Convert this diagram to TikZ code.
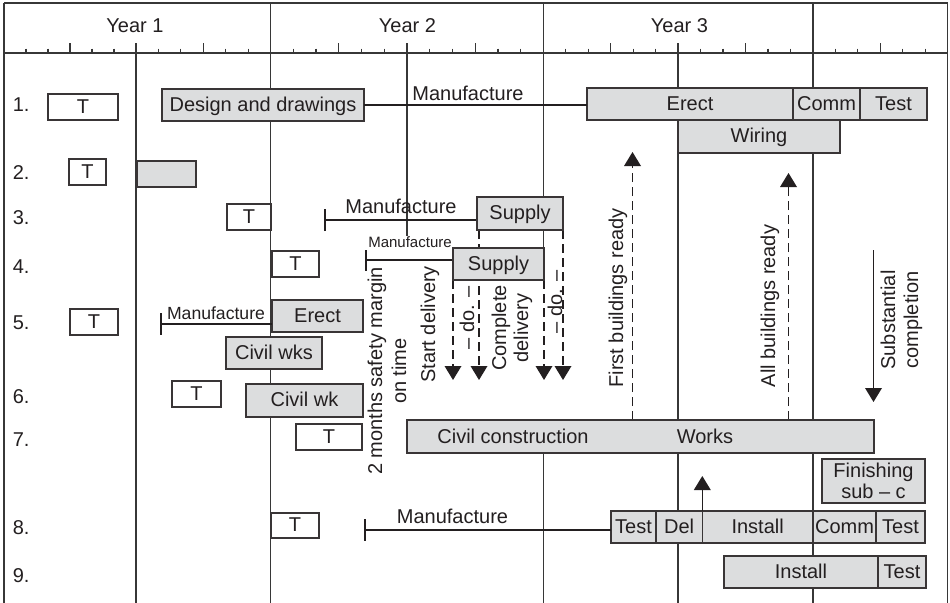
\documentclass[tikz,border=0pt]{standalone}
\usepackage{fontspec}
\setmainfont{Liberation Sans}
\usetikzlibrary{arrows.meta}
\definecolor{ink}{RGB}{35,31,32}
\definecolor{boxfill}{RGB}{220,221,222}
\definecolor{gridc}{RGB}{55,55,55}
\newcommand\gboxat[7]{\node[#1, minimum width={(#4-#2)*0.75pt}, minimum height={(#5-#3)*0.75pt}] (#6) at ({(#2+#4)/2},{(#3+#5)/2}) {#7};}
\begin{document}
\begin{tikzpicture}[x=0.75pt,y=-0.75pt,
 font=\fontsize{15}{17}\selectfont, text=ink,
 grid/.style={draw=gridc, line width=0.85pt},
 gb/.style={draw=ink!90, fill=boxfill, line width=1.1pt, inner sep=0pt, outer sep=0pt, text height=11pt, text depth=1.5pt},
 wb/.style={gb, fill=white},
 bar/.style={draw=ink, line width=1.5pt},
 arr/.style={draw=ink, line width=1pt, -{Triangle[width=12.5pt,length=10.5pt]}},
 darr/.style={arr, dash pattern=on 6.75pt off 3.75pt},
 lbl/.style={inner sep=0pt},
 rot/.style={rotate=90, align=center, inner sep=0pt}]
\useasboundingbox[fill=white] (0,0) rectangle (950,603);

% ---- grid and header ----
\draw[grid] (4,3) -- (947.5,3);
\draw[grid] (4,53) -- (947.5,53);
\draw[grid] (4,3) -- (4,603);
\draw[grid] (947.5,3) -- (947.5,603);
\draw[grid] (270.5,3) -- (270.5,603);
\draw[grid] (543.5,3) -- (543.5,280);
\draw[grid] (543.5,420) -- (543.5,603);
\draw[grid] (813,3) -- (813,603);
\draw[grid] (136,43) -- (136,603);
\draw[grid] (407,43) -- (407,236);
\draw[grid] (678,43) -- (678,603);
\foreach \a/\b in {4/136,136/270.5,270.5/407,407/543.5,543.5/678,678/813,813/947.5}{
  \foreach \k in {1,2,4,5}{\draw[grid] ({\a+\k*(\b-\a)/6},48.5) -- ({\a+\k*(\b-\a)/6},53);}
  \draw[grid] ({(\a+\b)/2},43) -- ({(\a+\b)/2},53);
}
\node[lbl] (y1) at (135,26) {Year 1};
\node[lbl] (y2) at (407.5,26) {Year 2};
\node[lbl] (y3) at (679.5,26) {Year 3};

% ---- row numbers ----
\node[lbl, anchor=west] (n1) at (12.5,105) {1.};
\node[lbl, anchor=west] (n2) at (12.5,173) {2.};
\node[lbl, anchor=west] (n3) at (12.5,218) {3.};
\node[lbl, anchor=west] (n4) at (12.5,267) {4.};
\node[lbl, anchor=west] (n5) at (12.5,323) {5.};
\node[lbl, anchor=west] (n6) at (12.5,397) {6.};
\node[lbl, anchor=west] (n7) at (12.5,440) {7.};
\node[lbl, anchor=west] (n8) at (12.5,528) {8.};
\node[lbl, anchor=west] (n9) at (12.5,576) {9.};

% ---- coordinates for free ends ----
\coordinate (m3) at (324,220);
\coordinate (m4) at (365,260);
\coordinate (m5) at (160,323.5);
\coordinate (m8) at (364,529.5);
\coordinate (e1) at (453,380);
\coordinate (e2) at (479,380);
\coordinate (e3) at (544,380);
\coordinate (e4) at (563,380);
\coordinate (fb) at (632.5,152);
\coordinate (ab) at (788.5,173);
\coordinate (sc1) at (873.5,250);
\coordinate (sc2) at (873.5,402);
\coordinate (up8) at (702.3,476);

% ---- row 1 ----
\gboxat{wb}{48}{94}{118}{120}{t1}{T}
\gboxat{gb}{162}{89}{364}{121}{design}{Design and drawings}
\gboxat{gb}{587}{88}{793}{120}{erect1}{Erect}
\gboxat{gb}{793}{88}{860}{120}{comm1}{Comm}
\gboxat{gb}{860}{88}{927}{120}{test1}{Test}
\gboxat{gb}{678}{120}{840}{153}{wiring}{Wiring}
\draw[bar] (design.east) -- (design.east -| erect1.west);
\node[lbl] (man1) at (468,93) {Manufacture};

% ---- reference boxes for the connectors behind ----
\gboxat{gb}{477}{197}{563}{230}{supply3}{}
\gboxat{gb}{453}{248}{544}{280}{supply4}{}
\gboxat{gb}{407}{420}{874}{453}{civil}{}

\draw[darr] (e1 |- supply4.south) -- (e1);
\draw[darr] (e2 |- supply3.south) -- (e2);
\draw[darr] (e3 |- supply4.south) -- (e3);
\draw[darr] (e4 |- supply3.south) -- (e4);
\draw[darr] (fb |- civil.north) -- (fb);
\draw[darr] (ab |- civil.north) -- (ab);
\draw[arr] (sc1) -- (sc2);

\draw[bar, {Bar[width=16.5pt]}-] (m3) -- (m3 -| supply3.west);
\draw[bar, {Bar[width=15.75pt]}-] (m4) -- (m4 -| supply4.west);

% ---- row boxes ----
\gboxat{wb}{69}{159}{106}{185}{t2}{T}
\gboxat{gb}{137}{161}{196}{187}{g2}{}
\gboxat{wb}{227}{204}{271}{230}{t3}{T}
\gboxat{gb}{477}{197}{563}{230}{supply3b}{Supply}
\gboxat{wb}{272}{251}{319}{277}{t4}{T}
\gboxat{gb}{453}{248}{544}{280}{supply4b}{Supply}
\gboxat{wb}{70}{309}{118}{335}{t5}{T}
\gboxat{gb}{272}{300}{363}{332}{erect5}{Erect}
\gboxat{gb}{226}{337}{322}{369}{civwks}{Civil wks}
\gboxat{wb}{172}{381}{221}{407}{t6}{T}
\gboxat{gb}{246}{384}{363}{417}{civwk}{Civil wk}
\gboxat{wb}{296}{424}{362}{450}{t7}{T}
\gboxat{gb}{407}{420}{874}{453}{civilb}{}
\node[lbl] (cc) at (513,436.5) {Civil construction};
\node[lbl] (works) at (705,436.5) {Works};
\gboxat{gb}{822}{459}{925}{503}{finish}{}
\node[lbl, align=center, font=\fontsize{15}{16.2}\selectfont] (fintxt) at (finish.center) {Finishing\\sub -- c};
\gboxat{wb}{271}{513}{319}{538}{t8}{T}
\gboxat{gb}{611}{511}{656}{543}{test8a}{Test}
\gboxat{gb}{656}{511}{702.3}{543}{del8}{Del}
\gboxat{gb}{702.3}{511}{813}{543}{inst8}{Install}
\gboxat{gb}{813}{511}{876}{543}{comm8}{Comm}
\gboxat{gb}{876}{511}{925}{543}{test8b}{Test}
\gboxat{gb}{724}{556}{878}{588}{inst9}{Install}
\gboxat{gb}{878}{556}{926}{588}{test9}{Test}

\draw[bar, {Bar[width=16.5pt]}-] (m5) -- (m5 -| erect5.west);
\node[lbl, font=\fontsize{13.2}{15}\selectfont] (man5) at (216,313) {Manufacture};
\draw[bar, {Bar[width=16.5pt]}-] (m8) -- (m8 -| test8a.west);
\node[lbl] (man8) at (452.5,516) {Manufacture};
\node[lbl] (man3) at (401,206) {Manufacture};
\node[lbl, font=\fontsize{11.25}{13}\selectfont] (man4) at (410,242.5) {Manufacture};
\draw[arr] (inst8.north west) -- (up8);

% ---- rotated texts ----
\node[rot, font=\fontsize{15}{18}\selectfont] (safety) at (387,371) {2 months safety margin\\on time};
\node[rot] (startd) at (430,324.5) {Start delivery};
\node[rot] (do1) at (467,318) {-- do. --};
\node[rot, font=\fontsize{15}{16.5}\selectfont] (compd) at (512,328) {Complete\\delivery};
\node[rot] (do2) at (555,302) {-- do. --};
\node[rot] (firstb) at (618,298) {First buildings ready};
\node[rot] (allb) at (770,306) {All buildings ready};
\node[rot, font=\fontsize{15}{17.3}\selectfont] (subst) at (901.5,320) {Substantial\\completion};
\end{tikzpicture}
\end{document}
